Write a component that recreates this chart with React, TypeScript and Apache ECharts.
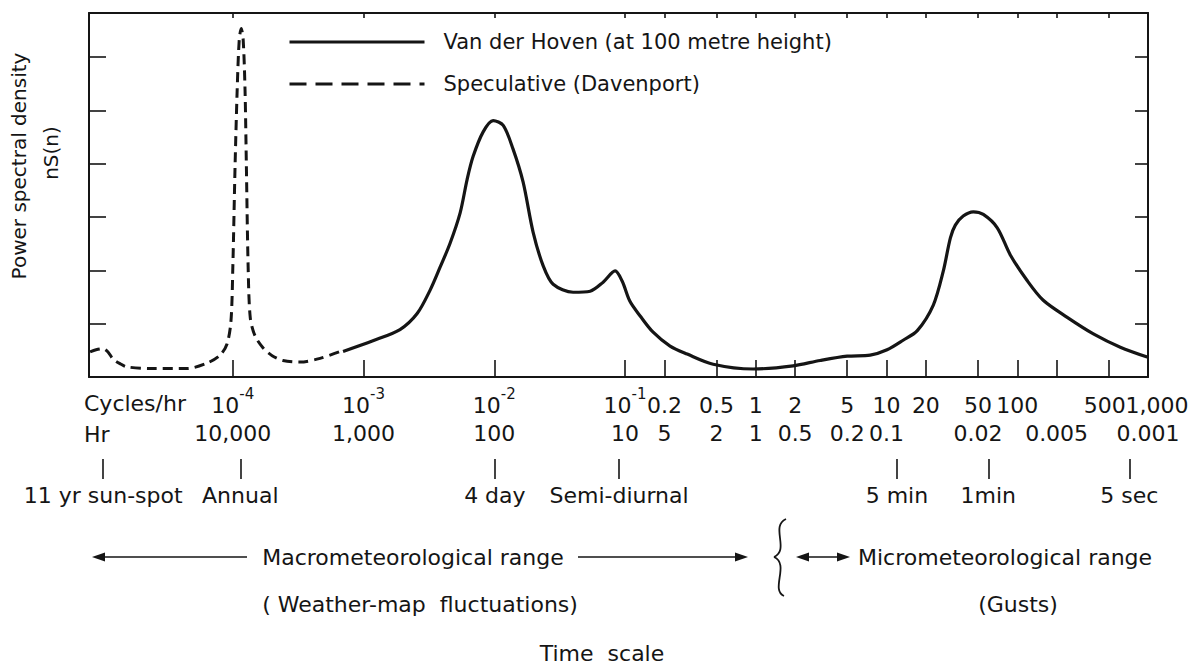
import React, { useEffect, useRef } from 'react';
import * as echarts from 'echarts';

const FONT = '"DejaVu Sans", "Liberation Sans", sans-serif';
const INK = '#151515';

// x: frequency in cycles per hour, drawn on a log10 scale from 10^-5.1 to 10^3
const X_MIN_LOG = -5.1;
const X_MAX_LOG = 3;
// y: power spectral density nS(n), in tick units
const Y_MAX = 6.83;

const SOLID_NAME = 'Van der Hoven (at 100 metre height)';
const DASHED_NAME = 'Speculative (Davenport)';

const speculativeFreq = [
  8.1e-6, 9.0e-6, 1.02e-5, 1.11e-5, 1.21e-5, 1.37e-5, 1.55e-5, 2.33e-5, 4.47e-5, 6.35e-5,
  7.98e-5, 9.03e-5, 9.68e-5, 1.0e-4, 1.04e-4, 1.08e-4, 1.12e-4, 1.16e-4, 1.2e-4, 1.24e-4,
  1.27e-4, 1.31e-4, 1.36e-4, 1.48e-4, 1.7e-4, 2.0e-4, 2.42e-4, 3.27e-4, 4.65e-4, 6.97e-4,
];
const speculativeValue = [
  0.47, 0.51, 0.53, 0.47, 0.34, 0.25, 0.19, 0.16, 0.16, 0.26,
  0.41, 0.62, 1.05, 2.05, 3.94, 5.39, 6.33, 6.54, 6.33, 5.39,
  3.95, 2.06, 1.11, 0.77, 0.55, 0.4, 0.31, 0.28, 0.35, 0.5,
];

const hovenFreq = [
  6.97e-4, 1.18e-3, 1.9e-3, 2.57e-3, 3.23e-3, 3.85e-3, 4.59e-3, 5.48e-3, 6.2e-3, 6.89e-3,
  8.22e-3, 9.8e-3, 1.17e-2, 1.39e-2, 1.66e-2, 1.98e-2, 2.37e-2, 2.82e-2, 4.01e-2, 5.41e-2,
  6.8e-2, 8.4e-2, 9.5e-2, 0.109, 0.131, 0.164, 0.221, 0.299, 0.472, 0.955,
  1.93, 3.11, 5.0, 7.5, 10.1, 13.4, 17.2, 22.8, 27.2, 30.8,
  33.6, 38.6, 46.1, 55.0, 70.3, 88.5, 119, 158, 241, 382,
  614, 1000,
];
const hovenValue = [
  0.48, 0.68, 0.89, 1.19, 1.63, 2.06, 2.51, 3.08, 3.71, 4.14,
  4.6, 4.81, 4.72, 4.28, 3.66, 2.72, 2.08, 1.74, 1.59, 1.61,
  1.78, 1.99, 1.8, 1.42, 1.14, 0.84, 0.58, 0.43, 0.24, 0.15,
  0.21, 0.31, 0.39, 0.41, 0.51, 0.69, 0.87, 1.35, 1.99, 2.61,
  2.85, 3.02, 3.1, 3.05, 2.8, 2.29, 1.81, 1.44, 1.12, 0.81,
  0.56, 0.37,
];

const tickFreqs = [1e-4, 1e-3, 1e-2, 0.1, 0.2, 0.5, 1, 2, 5, 10, 20, 50, 100, 200, 500, 1000];
const cycleLabelFreqs = [1e-4, 1e-3, 1e-2, 0.1, 0.2, 0.5, 1, 2, 5, 10, 20, 50, 100, 500, 1000];
const cycleLabelTexts = ['10^-4', '10^-3', '10^-2', '10^-1', '0.2', '0.5', '1', '2', '5', '10', '20', '50', '100', '500', '1,000'];
const hourLabelFreqs = [1e-4, 1e-3, 1e-2, 0.1, 0.2, 0.5, 1, 2, 5, 10, 50, 200, 1000];
const hourLabelTexts = ['10,000', '1,000', '100', '10', '5', '2', '1', '0.5', '0.2', '0.1', '0.02', '0.005', '0.001'];
const eventFreqs = [1.02e-5, 1.14e-4, 0.0101, 0.09, 12, 60, 720];
const eventTexts = ['11 yr sun-spot', 'Annual', '4 day', 'Semi-diurnal', '5 min', '1min', '5 sec'];
const yTickValues = [1, 2, 3, 4, 5, 6];

const toLog = (a: number[]) => a.map((f) => Math.log10(f));
const pick = (freqs: number[], texts: string[], v: number) => {
  let best = 0;
  let d = Infinity;
  freqs.forEach((f, i) => {
    const dd = Math.abs(Math.log10(f) - v);
    if (dd < d) {
      d = dd;
      best = i;
    }
  });
  return texts[best];
};

const lineStyleInk = { color: INK, width: 2 };
const hiddenSymbol = { color: 'rgba(0,0,0,0)', borderWidth: 0, opacity: 0 };

function buildOption() {
  const baseX = {
    type: 'value',
    min: X_MIN_LOG,
    max: X_MAX_LOG,
    splitLine: { show: false },
  };
  const txt = (
    text: string,
    x: number,
    y: number,
    size: number,
    align: string = 'left',
    rotation = 0,
  ) => ({
    type: 'text',
    x,
    y,
    rotation,
    silent: true,
    style: {
      text,
      fill: INK,
      font: `${size}px ${FONT}`,
      fontSize: size,
      fontFamily: FONT,
      align,
      verticalAlign: 'middle',
      textAlign: align,
      textVerticalAlign: 'middle',
    },
  });
  const seg = (x1: number, y1: number, x2: number, y2: number) => ({
    type: 'line',
    silent: true,
    shape: { x1, y1, x2, y2 },
    style: { stroke: INK, lineWidth: 1.6 },
  });
  const head = (tip: number, y: number, dir: number) => ({
    type: 'polygon',
    silent: true,
    shape: { points: [[tip, y], [tip - dir * 13, y - 4.5], [tip - dir * 13, y + 4.5]] },
    style: { fill: INK },
  });
  const ay = 557;

  const richRow1 = {
    n: { fontSize: 22, fontFamily: FONT, color: INK, lineHeight: 30, verticalAlign: 'bottom' },
    r: { fontSize: 22, fontFamily: FONT, color: INK, lineHeight: 30, verticalAlign: 'bottom', padding: [0, 0, 0, 18] },
    l: { fontSize: 22, fontFamily: FONT, color: INK, lineHeight: 30, verticalAlign: 'bottom', padding: [0, 8, 0, 0] },
    s: { fontSize: 15, fontFamily: FONT, color: INK, lineHeight: 12, verticalAlign: 'top' },
  };
  const row1Formatter = (v: number) => {
    const t = pick(cycleLabelFreqs, cycleLabelTexts, v);
    const m = t.match(/^10\^(.+)$/);
    if (m) return `{n|10}{s|${m[1]}}`;
    if (t === '1,000') return `{r|${t}}`;
    if (t === '500') return `{l|${t}}`;
    return `{n|${t}}`;
  };
  const row1Main = toLog(cycleLabelFreqs.slice(0, -1));
  const row1Last = toLog(cycleLabelFreqs.slice(-1));

  return {
    animation: false,
    backgroundColor: '#ffffff',
    textStyle: { fontFamily: FONT, color: INK },
    grid: { left: 89, right: 52, top: 13, bottom: 288, outerBoundsMode: 'none' },
    legend: {
      orient: 'vertical',
      left: 288,
      top: 31,
      padding: 0,
      itemWidth: 135,
      itemHeight: 22,
      itemGap: 20,
      selectedMode: false,
      itemStyle: hiddenSymbol,
      textStyle: { fontSize: 21, fontFamily: FONT, color: INK, lineHeight: 22, padding: [0, 0, 0, 14] },
      data: [
        { name: SOLID_NAME, itemStyle: hiddenSymbol, lineStyle: { width: 3, type: 'solid', color: INK } },
        { name: DASHED_NAME, itemStyle: hiddenSymbol, lineStyle: { width: 3, type: [17, 9], color: INK } },
      ],
    },
    xAxis: [
      {
        ...baseX,
        position: 'bottom',
        axisLine: { show: true, onZero: false, lineStyle: lineStyleInk },
        axisTick: { show: true, inside: true, length: 17, customValues: toLog(tickFreqs), lineStyle: { color: INK, width: 1.6 } },
        axisLabel: {
          show: true,
          showMinLabel: true,
          showMaxLabel: true,
          hideOverlap: false,
          customValues: row1Main,
          margin: 9,
          formatter: row1Formatter,
          rich: richRow1,
        },
      },
      {
        ...baseX,
        position: 'top',
        axisLine: { show: true, onZero: false, lineStyle: lineStyleInk },
        axisTick: { show: true, inside: true, length: 5, customValues: toLog(tickFreqs), lineStyle: { color: INK, width: 1.6 } },
        axisLabel: { show: false },
      },
      {
        ...baseX,
        position: 'bottom',
        axisLine: { show: false, onZero: false },
        axisTick: { show: false },
        axisLabel: {
          show: true,
          showMinLabel: true,
          showMaxLabel: true,
          customValues: toLog(hourLabelFreqs),
          margin: 45,
          fontSize: 22,
          lineHeight: 22,
          fontFamily: FONT,
          color: INK,
          formatter: (v: number) => pick(hourLabelFreqs, hourLabelTexts, v),
        },
      },
      {
        ...baseX,
        position: 'bottom',
        offset: 82,
        axisLine: { show: false, onZero: false },
        axisTick: { show: true, length: 20, customValues: toLog(eventFreqs), lineStyle: { color: INK, width: 1.6 } },
        axisLabel: {
          show: true,
          showMinLabel: true,
          showMaxLabel: true,
          customValues: toLog(eventFreqs),
          margin: 25,
          fontSize: 22,
          lineHeight: 22,
          fontFamily: FONT,
          color: INK,
          formatter: (v: number) => pick(eventFreqs, eventTexts, v),
        },
      },
      {
        ...baseX,
        position: 'bottom',
        axisLine: { show: false, onZero: false },
        axisTick: { show: false },
        axisLabel: {
          show: true,
          showMinLabel: true,
          showMaxLabel: true,
          customValues: row1Last,
          margin: 9,
          formatter: row1Formatter,
          rich: richRow1,
        },
      },
    ],
    yAxis: [
      {
        type: 'value',
        min: 0,
        max: Y_MAX,
        position: 'left',
        axisLine: { show: true, onZero: false, lineStyle: lineStyleInk },
        axisTick: { show: true, inside: true, length: 17, customValues: yTickValues, lineStyle: { color: INK, width: 1.6 } },
        axisLabel: { show: false },
        splitLine: { show: false },
      },
      {
        type: 'value',
        min: 0,
        max: Y_MAX,
        position: 'right',
        axisLine: { show: true, onZero: false, lineStyle: lineStyleInk },
        axisTick: { show: true, inside: true, length: 13, customValues: yTickValues, lineStyle: { color: INK, width: 1.6 } },
        axisLabel: { show: false },
        splitLine: { show: false },
      },
    ],
    series: [
      {
        name: DASHED_NAME,
        type: 'line',
        xAxisIndex: 0,
        yAxisIndex: 0,
        symbol: 'none',
        smooth: 0.3,
        itemStyle: { color: INK },
        lineStyle: { color: INK, width: 3, type: [10, 6] },
        data: speculativeFreq.map((f, i) => [Math.log10(f), speculativeValue[i]]),
      },
      {
        name: SOLID_NAME,
        type: 'line',
        xAxisIndex: 0,
        yAxisIndex: 0,
        symbol: 'none',
        smooth: 0.3,
        itemStyle: { color: INK },
        lineStyle: { color: INK, width: 3.2 },
        data: hovenFreq.map((f, i) => [Math.log10(f), hovenValue[i]]),
      },
    ],
    graphic: [
      txt('Cycles/hr', 84, 403.5, 22),
      txt('Hr', 84, 434.5, 22),
      txt('Power spectral density', 19, 166, 20, 'center', Math.PI / 2),
      txt('nS(n)', 51, 153, 20, 'center', Math.PI / 2),
      head(92, ay, -1),
      seg(104, ay, 247, ay),
      txt('Macrometeorological range', 413, ay, 22, 'center'),
      seg(578, ay, 737, ay),
      head(748, ay, 1),
      {
        type: 'bezierCurve',
        silent: true,
        shape: { x1: 786, y1: 519, cpx1: 770, cpy1: 526, cpx2: 790, cpy2: 550, x2: 774, y2: 557 },
        style: { stroke: INK, lineWidth: 1.8, fill: 'none' },
      },
      {
        type: 'bezierCurve',
        silent: true,
        shape: { x1: 774, y1: 557, cpx1: 790, cpy1: 564, cpx2: 770, cpy2: 590, x2: 784, y2: 596 },
        style: { stroke: INK, lineWidth: 1.8, fill: 'none' },
      },
      head(796, ay, -1),
      seg(806, ay, 840, ay),
      head(850, ay, 1),
      txt('Micrometeorological range', 858, ay, 22),
      txt('( Weather-map  fluctuations)', 420, 604, 22, 'center'),
      txt('(Gusts)', 1018, 604, 22, 'center'),
      txt('Time  scale', 602, 653, 22, 'center'),
    ],
  };
}

export default function App() {
  const ref = useRef<HTMLDivElement>(null);
  useEffect(() => {
    if (!ref.current) return;
    const chart = echarts.init(ref.current, null, { renderer: 'svg' });
    chart.setOption(buildOption() as any);
    return () => chart.dispose();
  }, []);
  return (
    <div
      ref={ref}
      style={{ position: 'absolute', left: 0, top: 0, width: 1200, height: 665, background: '#ffffff' }}
    />
  );
}
